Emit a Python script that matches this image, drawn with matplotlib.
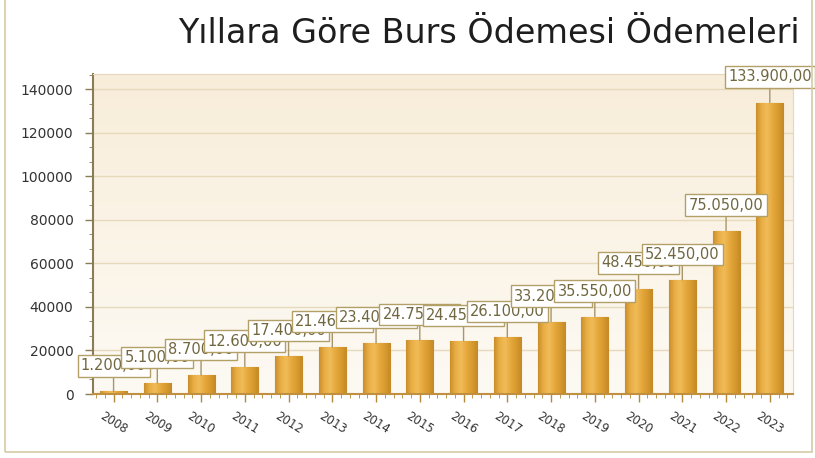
import matplotlib
matplotlib.use("Agg")
import matplotlib.pyplot as plt
import numpy as np
from matplotlib.ticker import AutoMinorLocator, MultipleLocator, FixedLocator
from matplotlib.patches import Rectangle
from matplotlib.colors import LinearSegmentedColormap

years = ["2008", "2009", "2010", "2011", "2012", "2013", "2014", "2015",
         "2016", "2017", "2018", "2019", "2020", "2021", "2022", "2023"]
values = [1200, 5100, 8700, 12600, 17400, 21460, 23400, 24750,
          24450, 26100, 33200, 35550, 48450, 52450, 75050, 133900]
labels = ["1.200,00", "5.100,00", "8.700,00", "12.600,00", "17.400,00",
          "21.460,00", "23.400,00", "24.750,00", "24.450,00", "26.100,00",
          "33.200,00", "35.550,00", "48.450,00", "52.450,00", "75.050,00",
          "133.900,00"]
title = "Yıllara Göre Burs Ödemesi Ödemeleri"

W, H = 815, 458
fig = plt.figure(figsize=(W / 100, H / 100), dpi=100)
fig.patch.set_facecolor("white")

# outer frame
fig.add_artist(Rectangle((5 / W, 6 / H), 807 / W, 460 / H, transform=fig.transFigure,
                         fill=False, edgecolor="#D6C9A6", linewidth=1.2))

ax = fig.add_axes([93 / W, (H - 394) / H, (793 - 93) / W, (394 - 74) / H])
x = np.arange(len(years))

# background gradient
bg = LinearSegmentedColormap.from_list("bg", ["#FDFAF4", "#F8EDD9"])
grad = np.linspace(0, 1, 256).reshape(-1, 1)
ax.imshow(grad, extent=[0, 1, 0, 1], transform=ax.transAxes, cmap=bg,
          aspect="auto", origin="lower", zorder=0)

bars = ax.bar(x, values, width=0.62, color="#E3A233", edgecolor="#C28A2A",
              linewidth=0.8, zorder=2)
barcm = LinearSegmentedColormap.from_list(
    "bar", ["#C98E2A", "#E9AE45", "#F0BC58", "#E6A83C", "#D69A2E", "#C48828"])
hgrad = np.linspace(0, 1, 256).reshape(1, -1)
for b in bars:
    im = ax.imshow(hgrad, extent=[b.get_x(), b.get_x() + b.get_width(), 0, b.get_height()],
                   cmap=barcm, aspect="auto", zorder=2.5)
    im.set_clip_path(b)

for i, (v, lab) in enumerate(zip(values, labels)):
    ax.annotate(lab, xy=(x[i], v), xytext=(0, 13), textcoords="offset points",
                ha="center", va="bottom", fontsize=10.5, color="#70673F",
                bbox=dict(boxstyle="square,pad=0.22", facecolor="white",
                          edgecolor="#B3A066", linewidth=1.0),
                arrowprops=dict(arrowstyle="-", color="#A8956A", linewidth=1.0,
                                shrinkA=0, shrinkB=0),
                zorder=5 + i, annotation_clip=False)

ax.set_xlim(-0.47, 15.53)
ax.set_ylim(0, 147000)
ax.yaxis.set_major_locator(MultipleLocator(20000))
ax.yaxis.set_minor_locator(AutoMinorLocator(3))
ax.set_xticks(x)
ax.xaxis.set_minor_locator(FixedLocator(np.arange(-0.4, 15.6, 0.2)))
ax.set_xticklabels(years, rotation=-32, ha="center", va="top", fontsize=8.5,
                   color="#333333")
ax.tick_params(axis="y", labelsize=10, colors="#8A7D55",
               length=6, width=1.0, pad=8)
ax.tick_params(axis="y", which="minor", length=3, colors="#8A7D55")
ax.tick_params(axis="x", which="major", length=6, colors="#B08A3A", width=1.0, pad=5)
ax.tick_params(axis="x", which="minor", length=3, colors="#B08A3A")
for lab in ax.get_yticklabels():
    lab.set_color("#333333")
for lab in ax.get_xticklabels():
    lab.set_color("#333333")

ax.grid(axis="y", color="#E6D9BC", linewidth=1.0, zorder=1)
ax.set_axisbelow(True)
ax.spines["left"].set_color("#8A7D55")
ax.spines["left"].set_linewidth(1.5)
ax.spines["bottom"].set_color("#C09040")
ax.spines["bottom"].set_linewidth(1.5)
ax.spines["top"].set_color("#E3D7BC")
ax.spines["right"].set_color("#E3D7BC")

fig.text(800 / W, 1 - 43 / H, title, ha="right", va="baseline", fontsize=24,
         color="#1E1E1E", family="DejaVu Sans")

fig.savefig("out.png", dpi=100)
